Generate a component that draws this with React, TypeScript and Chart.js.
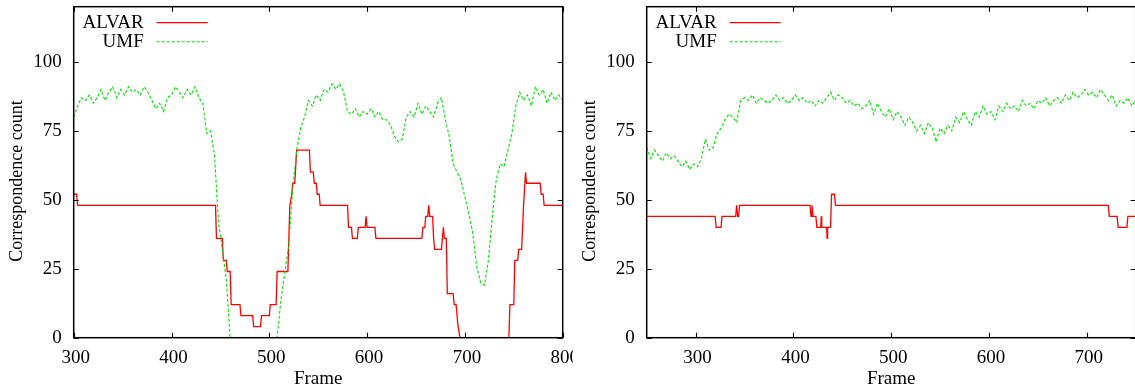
import React, { useEffect, useRef } from 'react';
import { Chart, registerables } from 'chart.js';

Chart.register(...registerables);

const FONT = '"Liberation Serif", "Times New Roman", serif';

// ---------- Left panel ----------
const leftAlvarFrames = [
  300, 303, 304, 445, 446, 452, 453, 456, 457, 460, 461, 470, 471, 483, 484, 491, 492, 500, 501, 507,
  508, 519, 521, 523, 524, 526, 528, 541, 542, 545, 546, 548, 549, 551, 552, 580, 581, 584, 585, 590,
  591, 598, 599, 600, 608, 609, 656, 657, 659, 660, 662, 663, 664, 667, 668, 669, 676, 677, 678, 679,
  681, 682, 688, 689, 691, 693, 695, 745, 746, 750, 751, 754, 755, 758, 760, 762, 763, 777, 778, 780,
  781, 800,
];
const leftAlvarValues = [
  52, 52, 48, 48, 36, 36, 28, 28, 24, 24, 12, 12, 8, 8, 4, 4, 8, 8, 12, 12,
  24, 24, 48, 52, 56, 56, 68, 68, 60, 60, 56, 56, 52, 52, 48, 48, 40, 40, 36, 36,
  40, 40, 44, 40, 40, 36, 36, 40, 40, 44, 44, 48, 44, 44, 36, 32, 32, 36, 40, 36,
  36, 16, 16, 12, 12, 4, 0, 0, 12, 12, 28, 28, 32, 32, 48, 60, 56, 56, 52, 52,
  48, 48,
];
const leftUmfStart = 300;
const leftUmfValues = [
  80, 84, 87, 86, 88, 85, 87, 90, 86, 89,
  91, 87, 90, 88, 91, 89, 90, 88, 91, 89,
  86, 83, 85, 82, 87, 88, 91, 89, 87, 90,
  88, 91, 87, 85, 74, 75, 66, 42, 32, 21,
  0, 0, 0, 0, 0, 0, 0, 0, 0, 0,
  0, 0, 0, 14, 24, 34, 54, 68, 76, 80,
  86, 84, 88, 86, 90, 89, 92, 90, 92, 89,
  82, 81, 83, 80, 82, 81, 83, 80, 82, 79,
  79, 77, 73, 71, 72, 80, 82, 80, 85, 81,
  84, 82, 80, 85, 87, 79, 73, 63, 60, 57,
  51, 45, 38, 26, 20, 19, 28, 44, 57, 63,
  62, 68, 74, 84, 89, 86, 88, 84, 91, 88,
  90, 85, 89, 86, 88, 86,
];
const leftXTicks = [300, 400, 500, 600, 700, 800];

// ---------- Right panel ----------
const rightAlvarFrames = [
  250, 320, 321, 326, 327, 341, 342, 343, 344, 345, 417, 418, 419, 420, 423, 424, 428, 428.5, 429, 434,
  434.5, 435, 438, 439, 442, 443, 722, 723, 731, 732, 741, 742, 750,
];
const rightAlvarValues = [
  44, 44, 40, 40, 44, 44, 48, 44, 44, 48, 48, 44, 48, 44, 44, 40, 40, 44, 40, 40,
  36, 40, 40, 52, 52, 48, 48, 44, 44, 40, 40, 44, 44,
];
const rightUmfStart = 250;
const rightUmfValues = [
  69, 65, 68, 66, 64, 67, 65, 66, 64, 62,
  64, 61, 63, 62, 65, 72, 68, 69, 74, 76,
  79, 81, 80, 78, 86, 87, 86, 88, 85, 87,
  86, 85, 86, 88, 86, 87, 85, 86, 88, 86,
  87, 85, 86, 84, 86, 85, 87, 89, 86, 88,
  87, 85, 86, 84, 85, 83, 84, 86, 81, 85,
  82, 80, 83, 79, 82, 80, 77, 80, 78, 75,
  77, 74, 78, 76, 71, 76, 74, 77, 75, 80,
  78, 82, 79, 77, 82, 80, 84, 81, 82, 79,
  84, 82, 85, 83, 84, 82, 86, 84, 85, 83,
  86, 85, 87, 84, 86, 87, 85, 88, 86, 89,
  87, 88, 90, 88, 89, 87, 90, 88, 86, 88,
  84, 86, 85, 87, 84, 86,
];
const rightXTicks = [300, 400, 500, 600, 700];

const umfStep = 4;
const seriesNames = ['ALVAR', 'UMF'];
const seriesColors = ['#ff0000', '#00e000'];
const yTicks = [0, 25, 50, 75, 100];
const yMax = 120;
const xTitle = 'Frame';
const yTitle = 'Correspondence count';

const CW = 573;
const CH = 390;

const toPoints = (frames: number[], values: number[]) =>
  frames.map((f, i) => ({ x: f, y: values[i] }));
const umfPoints = (start: number, values: number[]) =>
  values.map((v, i) => ({ x: start + i * umfStep, y: v }));

const gnuplotFrame = {
  id: 'gnuplotFrame',
  afterDatasetsDraw(chart: any) {
    const { ctx, chartArea: a, scales } = chart;
    ctx.save();
    ctx.strokeStyle = '#000';
    ctx.lineWidth = 1.1;
    const L = 5;
    ctx.beginPath();
    for (const t of scales.x.ticks) {
      const px = Math.round(scales.x.getPixelForValue(t.value)) + 0.5;
      ctx.moveTo(px, a.bottom);
      ctx.lineTo(px, a.bottom - L);
      ctx.moveTo(px, a.top);
      ctx.lineTo(px, a.top + L);
    }
    for (const t of scales.y.ticks) {
      const py = Math.round(scales.y.getPixelForValue(t.value)) + 0.5;
      ctx.moveTo(a.left, py);
      ctx.lineTo(a.left + L, py);
      ctx.moveTo(a.right, py);
      ctx.lineTo(a.right - L, py);
    }
    ctx.stroke();
    ctx.lineWidth = 1.5;
    ctx.strokeRect(a.left, a.top, a.right - a.left, a.bottom - a.top);

    // y axis title (gnuplot places it slightly below the plot centre)
    ctx.save();
    ctx.translate(17, 181);
    ctx.rotate(-Math.PI / 2);
    ctx.font = `18px ${FONT}`;
    ctx.textAlign = 'center';
    ctx.textBaseline = 'middle';
    ctx.fillStyle = '#000';
    ctx.fillText(yTitle, 0, 0);
    ctx.restore();

    // gnuplot-style key: text right-aligned, then sample line
    ctx.font = `19px ${FONT}`;
    ctx.textAlign = 'right';
    ctx.textBaseline = 'middle';
    chart.data.datasets.forEach((ds: any, i: number) => {
      const y = a.top + 16 + i * 19;
      ctx.fillStyle = '#000';
      ctx.fillText(ds.label, a.left + 70, y);
      ctx.strokeStyle = ds.borderColor;
      ctx.lineWidth = ds.borderWidth;
      ctx.setLineDash(ds.borderDash || []);
      ctx.beginPath();
      ctx.moveTo(a.left + 83, y);
      ctx.lineTo(a.left + 134, y);
      ctx.stroke();
      ctx.setLineDash([]);
    });
    ctx.restore();
  },
};

function GnuChart(props: {
  alvar: { x: number; y: number }[];
  umf: { x: number; y: number }[];
  xMin: number;
  xMax: number;
  xTicks: number[];
}) {
  const ref = useRef<HTMLCanvasElement>(null);
  useEffect(() => {
    const chart = new Chart(ref.current as HTMLCanvasElement, {
      type: 'line',
      data: {
        datasets: [
          {
            label: seriesNames[0],
            data: props.alvar,
            borderColor: seriesColors[0],
            borderWidth: 1.3,
            pointRadius: 0,
            tension: 0,
            fill: false,
            order: 1,
          },
          {
            label: seriesNames[1],
            data: props.umf,
            borderColor: seriesColors[1],
            borderWidth: 1.1,
            borderDash: [3, 2],
            pointRadius: 0,
            tension: 0,
            fill: false,
            order: 0,
          },
        ],
      },
      options: {
        animation: false,
        responsive: false,
        devicePixelRatio: 1,
        parsing: false as any,
        normalized: true,
        layout: { padding: { left: 0, top: 6.7, right: CW - 562.7, bottom: 0 } },
        plugins: { legend: { display: false }, tooltip: { enabled: false } },
        scales: {
          x: {
            type: 'linear',
            min: props.xMin,
            max: props.xMax,
            grid: { display: false, drawTicks: false },
            border: { display: false },
            afterBuildTicks(scale: any) {
              scale.ticks = props.xTicks.map((v) => ({ value: v }));
            },
            ticks: {
              padding: 9,
              labelOffset: 2,
              color: '#000',
              font: { family: FONT, size: 19 },
              maxRotation: 0,
              autoSkip: false,
            },
            title: {
              display: true,
              text: xTitle,
              color: '#000',
              font: { family: FONT, size: 19 },
              padding: { top: 0, bottom: 0 },
            },
            afterFit(scale: any) {
              scale.height = CH - 337.7;
              scale.paddingLeft = 0;
              scale.paddingRight = 0;
            },
          },
          y: {
            type: 'linear',
            min: 0,
            max: yMax,
            grid: { display: false, drawTicks: false },
            border: { display: false },
            afterBuildTicks(scale: any) {
              scale.ticks = yTicks.map((v) => ({ value: v }));
            },
            ticks: {
              padding: 12,
              color: '#000',
              font: { family: FONT, size: 19 },
              autoSkip: false,
            },
            title: { display: false, text: yTitle },
            afterFit(scale: any) {
              scale.width = 73.7;
              scale.paddingTop = 0;
              scale.paddingBottom = 0;
            },
          },
        },
      } as any,
      plugins: [gnuplotFrame],
    });
    return () => chart.destroy();
  }, []);
  return <canvas ref={ref} width={CW} height={CH} style={{ display: 'block', width: CW, height: CH }} />;
}

export default function App() {
  return (
    <div style={{ position: 'fixed', left: 0, top: 0, width: 1135, height: 390, overflow: 'hidden', background: '#fff' }}>
      <div style={{ position: 'absolute', left: 0, top: 0, width: CW, height: CH, overflow: 'hidden' }}>
        <GnuChart
          alvar={toPoints(leftAlvarFrames, leftAlvarValues)}
          umf={umfPoints(leftUmfStart, leftUmfValues)}
          xMin={300}
          xMax={800}
          xTicks={leftXTicks}
        />
      </div>
      <div style={{ position: 'absolute', left: CW, top: 0, width: CW, height: CH, overflow: 'hidden' }}>
        <GnuChart
          alvar={toPoints(rightAlvarFrames, rightAlvarValues)}
          umf={umfPoints(rightUmfStart, rightUmfValues)}
          xMin={250}
          xMax={750}
          xTicks={rightXTicks}
        />
      </div>
    </div>
  );
}
